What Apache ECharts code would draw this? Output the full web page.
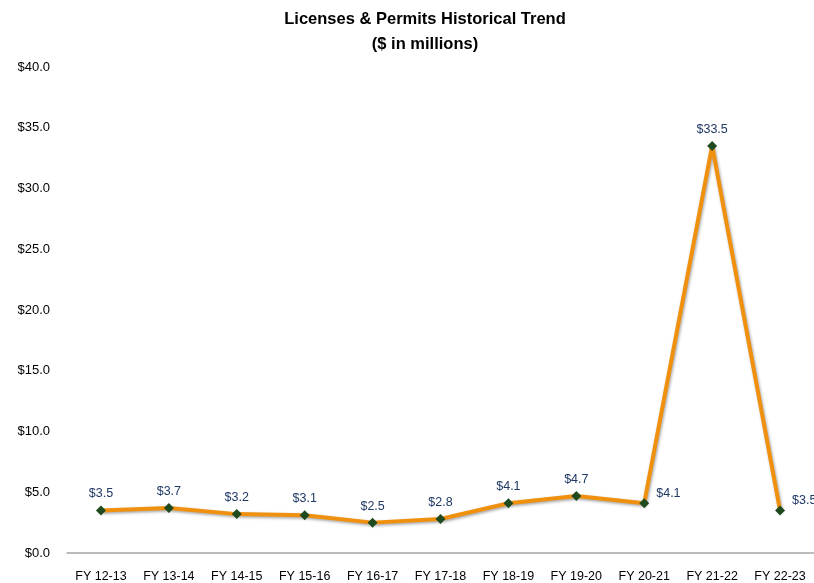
<!DOCTYPE html>
<html>
<head>
<meta charset="utf-8">
<script src="https://cdn.jsdelivr.net/npm/echarts@6/dist/echarts.min.js"></script>
<style>
  html, body { margin: 0; padding: 0; background: #fff; }
  #chart { width: 814px; height: 583px; }
</style>
</head>
<body>
<div id="chart"></div>
<script>
// Fiscal years shown on the x axis
const fiscalYears = ['FY 12-13', 'FY 13-14', 'FY 14-15', 'FY 15-16', 'FY 16-17', 'FY 17-18',
                     'FY 18-19', 'FY 19-20', 'FY 20-21', 'FY 21-22', 'FY 22-23'];
// Licenses & permits revenue, $ millions
const revenue = [3.5, 3.7, 3.2, 3.1, 2.5, 2.8, 4.1, 4.7, 4.1, 33.5, 3.5];
// Points whose value label sits to the right of the marker
const rightLabelYears = ['FY 20-21', 'FY 22-23'];

const font = '"Liberation Sans", Arial, sans-serif';
const chart = echarts.init(document.getElementById('chart'));

const points = revenue.map((v, i) => {
  const right = rightLabelYears.includes(fiscalYears[i]);
  return {
    value: v,
    label: right
      ? { position: 'right', offset: [2, -10] }
      : { position: 'top', distance: 5 }
  };
});

chart.setOption({
  animation: false,
  title: {
    text: 'Licenses & Permits Historical Trend\n($ in millions)',
    left: 420,
    textAlign: 'center',
    top: 2,
    textStyle: { fontFamily: font, fontSize: 16.5, fontWeight: 'bold', color: '#000', lineHeight: 25 }
  },
  grid: { left: 67, right: -5, top: 67, bottom: 28, containLabel: false },
  xAxis: {
    type: 'category',
    data: fiscalYears,
    boundaryGap: true,
    axisLine: { lineStyle: { color: '#a6a6a6', width: 1.5 } },
    axisTick: { show: false },
    axisLabel: { color: '#000', fontFamily: font, fontSize: 12.5, margin: 17, interval: 0 }
  },
  yAxis: {
    type: 'value',
    min: 0, max: 40, interval: 5,
    axisLine: { show: false },
    axisTick: { show: false },
    splitLine: { show: false },
    axisLabel: {
      color: '#000', fontFamily: font, fontSize: 13, margin: 17,
      formatter: v => '$' + v.toFixed(1)
    }
  },
  series: [{
    type: 'line',
    data: points,
    symbol: 'diamond',
    symbolSize: 10,
    itemStyle: { color: '#1f4a1f' },
    lineStyle: {
      color: '#f0900f', width: 4,
      shadowColor: 'rgba(0,0,0,0.35)', shadowBlur: 3, shadowOffsetX: 1, shadowOffsetY: 1.5
    },
    label: {
      show: true,
      color: '#1f3864',
      fontFamily: font,
      fontSize: 12.5,
      formatter: p => '$' + p.value.toFixed(1)
    }
  }]
});
</script>
</body>
</html>
